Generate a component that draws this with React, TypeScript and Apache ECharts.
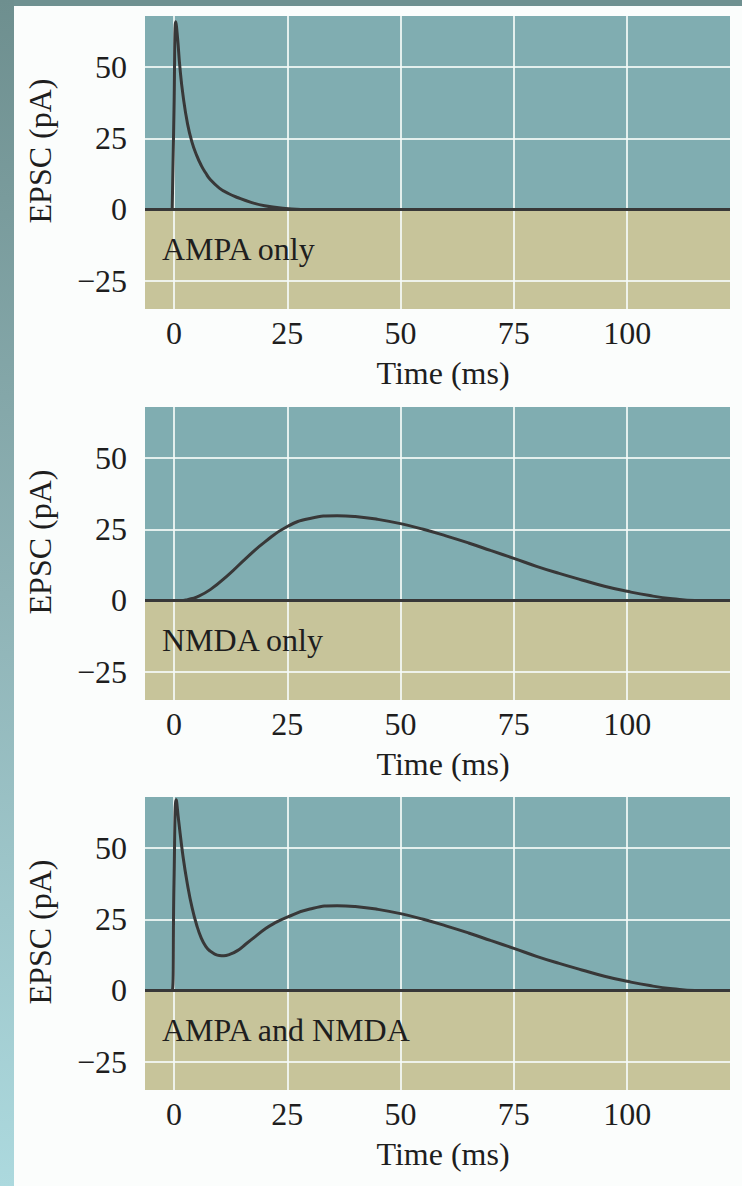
import React, { useEffect, useRef } from "react";
import * as echarts from "echarts";

// ---- axis ranges & ticks ----
const xMin = -6.4;
const xMax = 122.7;
const yMin = -35;
const yMax = 68;
const xTicks = [0, 25, 50, 75, 100];
const yTicks = [-25, 0, 25, 50];

const panelLabels = ["AMPA only", "NMDA only", "AMPA and NMDA"];
const yAxisTitle = "EPSC (pA)";
const xAxisTitle = "Time (ms)";

// ---- series data (time in ms, current in pA) ----
const ampaTime = [-0.4, 0, 0.4, 0.8, 1.3, 2, 3, 4, 5, 6, 7, 8, 10, 12, 14, 17, 20, 24, 28];
const ampaCurrent = [0, 35, 66, 60, 50, 40, 30, 23.5, 19, 15.5, 12.8, 10.5, 7.5, 5.6, 4.2, 2.5, 1.3, 0.4, 0];

const nmdaTime = [-6.4, 2, 3, 5, 8, 12, 16, 20, 25, 30, 36, 40, 45, 50, 55, 60, 65, 70, 75, 80, 85, 90, 95, 100, 105, 110, 115, 122.7];
const nmdaCurrent = [0, 0, 0.3, 1.2, 3.8, 9, 15, 20.5, 26, 28.8, 29.8, 29.5, 28.5, 27, 25, 22.7, 20.2, 17.5, 14.8, 12, 9.5, 7.2, 5, 3.2, 1.7, 0.6, 0, 0];

const bothTime = [-6.4, -0.4, 0, 0.5, 1, 2, 3, 4, 5, 6, 7, 8, 9, 10, 11, 12, 14, 16, 18, 20, 22, 25, 30, 36, 40, 45, 50, 55, 60, 65, 70, 75, 80, 85, 90, 95, 100, 105, 110, 115, 122.7];
const bothCurrent = [0, 0, 38, 67, 60, 47, 37, 29, 23, 18.5, 15.5, 13.8, 12.8, 12.3, 12.2, 12.5, 14, 16.5, 19, 21.5, 23.5, 25.8, 28.6, 29.8, 29.5, 28.5, 27, 25, 22.7, 20.2, 17.5, 14.8, 12, 9.5, 7.2, 5, 3.2, 1.7, 0.6, 0, 0];

const panels = [
  { time: ampaTime, current: ampaCurrent },
  { time: nmdaTime, current: nmdaCurrent },
  { time: bothTime, current: bothCurrent },
];

const FONT = "Liberation Serif";
const TEXT = "#1e1e1e";
const CURVE = "#383838";
const TEAL = "#80adb1";
const TAN = "#c7c49a";
const GRID_LINE = "rgba(245,250,248,0.85)";

const gridTops = [16, 407, 797];
const gridLeft = 145;
const gridWidth = 585;
const gridHeight = 293;

const fmt = (v: number) => (v < 0 ? "\u2212" + Math.abs(v) : String(v));

export default function App() {
  const ref = useRef<HTMLDivElement>(null);

  useEffect(() => {
    if (!ref.current) return;
    const chart = echarts.init(ref.current, null, { renderer: "svg" });

    const grids = gridTops.map((top) => ({
      left: gridLeft,
      top,
      width: gridWidth,
      height: gridHeight,
      containLabel: false,
    }));

    const xAxes = gridTops.map((_, i) => ({
      type: "value",
      gridIndex: i,
      min: xMin,
      max: xMax,
      z: 1.5,
      axisLine: { show: false, onZero: false },
      axisTick: { show: false, customValues: xTicks },
      axisLabel: {
        customValues: xTicks,
        formatter: fmt,
        margin: 8,
        fontFamily: FONT,
        fontSize: 32,
        color: TEXT,
      },
      splitLine: { show: true, lineStyle: { color: GRID_LINE, width: 2 } },
    }));

    const yAxes = gridTops.map((_, i) => ({
      type: "value",
      gridIndex: i,
      min: yMin,
      max: yMax,
      z: 1.5,
      axisLine: { show: false },
      axisTick: { show: false, customValues: yTicks },
      axisLabel: {
        customValues: yTicks,
        formatter: fmt,
        margin: 18,
        fontFamily: FONT,
        fontSize: 32,
        color: TEXT,
      },
      splitLine: { show: true, lineStyle: { color: GRID_LINE, width: 2 } },
    }));

    const series: any[] = [];
    panels.forEach((p, i) => {
      // background bands
      series.push({
        type: "line",
        xAxisIndex: i,
        yAxisIndex: i,
        data: [],
        z: 0,
        silent: true,
        markArea: {
          silent: true,
          z: 0,
          data: [
            [{ yAxis: 0, itemStyle: { color: TEAL } }, { yAxis: yMax }],
            [{ yAxis: yMin, itemStyle: { color: TAN } }, { yAxis: 0 }],
          ],
        },
      });
      series.push({
        type: "line",
        xAxisIndex: i,
        yAxisIndex: i,
        data: p.time.map((t, k) => [t, p.current[k]]),
        showSymbol: false,
        smooth: 0.5,
        silent: true,
        z: 3,
        lineStyle: { color: CURVE, width: 3 },
        markLine: {
          silent: true,
          symbol: "none",
          label: { show: false },
          lineStyle: { color: CURVE, width: 3, type: "solid" },
          data: [{ yAxis: 0 }],
        },
      });
    });

    const graphics: any[] = [
      { type: "rect", z: -10, shape: { x: 0, y: 0, width: 742, height: 1186 }, style: { fill: "#fbfdfc" } },
      { type: "rect", z: -9, shape: { x: 0, y: 0, width: 742, height: 6 }, style: { fill: "#6f9191" } },
      {
        type: "rect",
        z: -9,
        shape: { x: 0, y: 0, width: 14, height: 1186 },
        style: {
          fill: new echarts.graphic.LinearGradient(0, 0, 0, 1, [
            { offset: 0, color: "#6e8f8f" },
            { offset: 0.5, color: "#8fb3b6" },
            { offset: 1, color: "#acd9de" },
          ]),
        },
      },
    ];
    gridTops.forEach((top, i) => {
      graphics.push({
        type: "text",
        z: 10,
        x: 40,
        y: top + 135,
        rotation: Math.PI / 2,
        style: {
          text: yAxisTitle,
          fontFamily: FONT,
          fontSize: 32,
          fill: TEXT,
          align: "center",
          verticalAlign: "middle",
        },
      });
      graphics.push({
        type: "text",
        z: 10,
        x: 443,
        y: top + 357,
        style: {
          text: xAxisTitle,
          fontFamily: FONT,
          fontSize: 32,
          fill: TEXT,
          align: "center",
          verticalAlign: "middle",
        },
      });
      graphics.push({
        type: "text",
        z: 10,
        x: 162,
        y: top + 233,
        style: {
          text: panelLabels[i],
          fontFamily: FONT,
          fontSize: 32,
          fill: TEXT,
          align: "left",
          verticalAlign: "middle",
        },
      });
    });

    chart.setOption({
      animation: false,
      grid: grids,
      xAxis: xAxes,
      yAxis: yAxes,
      series,
      graphic: graphics,
    });

    return () => chart.dispose();
  }, []);

  return (
    <div
      ref={ref}
      style={{ position: "absolute", left: 0, top: 0, width: 742, height: 1186 }}
    />
  );
}
